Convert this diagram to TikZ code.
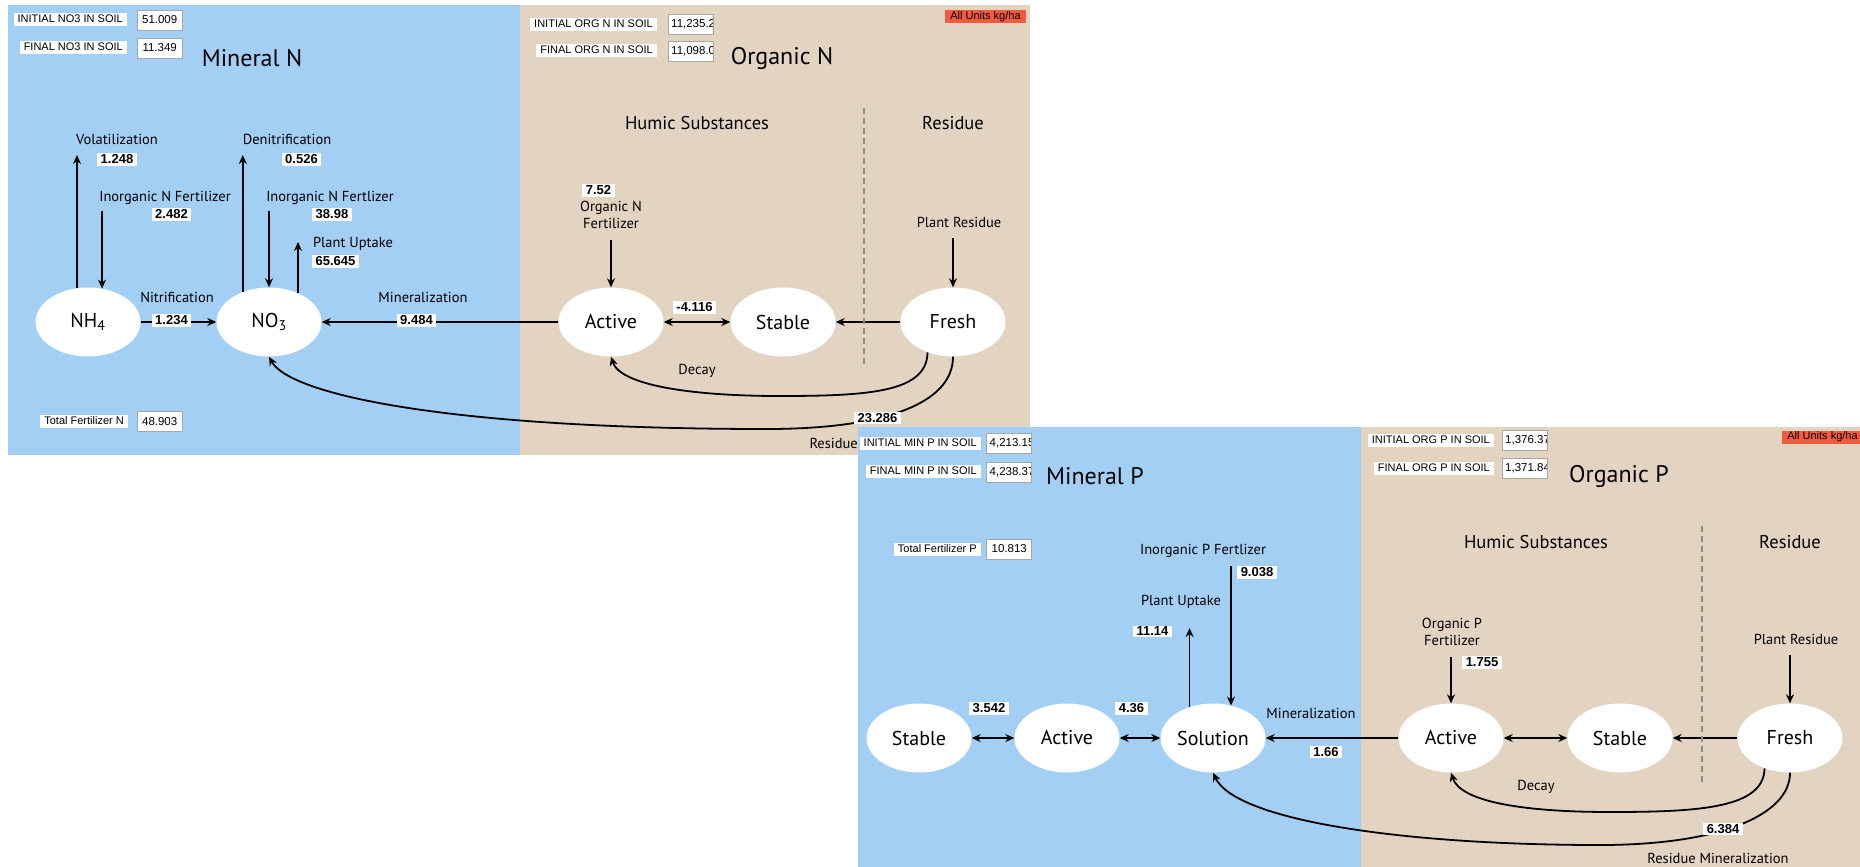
\documentclass[tikz,border=0pt]{standalone}
\usepackage{fontspec}
\setmainfont{PT Sans}
\newfontfamily\winfont{Liberation Sans}
\usetikzlibrary{shapes.geometric,arrows.meta}

\definecolor{minblue}{RGB}{163,207,245}
\definecolor{orgtan}{RGB}{227,211,193}
\definecolor{unitred}{RGB}{243,90,62}

\newcommand{\lblfont}{\winfont\fontsize{11}{13}\selectfont}
\newcommand{\valfont}{\winfont\fontsize{11.5}{13}\selectfont}
\newcommand{\numfont}{\winfont\bfseries\fontsize{13}{15}\selectfont}
\newcommand{\flowfont}{\fontsize{14.5}{17}\selectfont}
\newcommand{\headfont}{\fontsize{18.5}{20}\selectfont}
\newcommand{\titlefont}{\fontsize{24}{26}\selectfont}
\newcommand{\poolfont}{\fontsize{20}{22}\selectfont}

\begin{document}
\begin{tikzpicture}[x=1pt,y=-1pt,>={Stealth[length=9pt,width=8pt]},
  pool/.style={ellipse,fill=white,minimum width=105pt,minimum height=69pt,inner sep=0pt,font=\poolfont},
  arr/.style={line width=1.8pt},
  lblbox/.style={fill=white,font=\lblfont,inner xsep=4pt,inner ysep=1.5pt,text height=8pt,text depth=2pt},
  valbox/.style={draw=black!35,fill=white,minimum width=45pt,minimum height=20pt,inner sep=0pt,
    path picture={\node[anchor=west,inner sep=3pt,font=\valfont] at (path picture bounding box.west) {#1};}},
  numbox/.style={fill=white,font=\numfont,inner xsep=3.5pt,inner ysep=1.5pt},
  unitbox/.style={fill=unitred,font=\lblfont,minimum width=81pt,minimum height=13pt,inner sep=0pt},
  flowlbl/.style={font=\flowfont,inner sep=0pt},
  divider/.style={draw=black!45,line width=1.2pt,dash pattern=on 6pt off 4pt}]
\useasboundingbox[fill=white] (0,0) rectangle (1860,867);

% nitrogen: mineral N and organic N
\fill[minblue] (8,5) rectangle (520,455);
\fill[orgtan] (520,5) rectangle (1030,455);

\node[pool] (nh4) at (88,322) {NH\textsubscript{4}};
\node[pool] (no3) at (269,322) {NO\textsubscript{3}};
\node[pool] (actN) at (611,322) {Active};
\node[pool] (stbN) at (783,322) {Stable};
\node[pool] (frsN) at (953,322) {Fresh};

\coordinate (volTop) at (77,155);
\coordinate (fertNH) at (102,211);
\coordinate (denTop) at (243,155);
\coordinate (fertNO) at (269,211);
\coordinate (uptN) at (298,242);
\coordinate (fertON) at (611,240);
\coordinate (resN) at (953,238);

\draw[arr,->] (nh4.108) -- (nh4.108 |- volTop);
\draw[arr,->] (fertNH) -- (fertNH |- nh4.67);
\draw[arr,->] (no3.131) -- (no3.131 |- denTop);
\draw[arr,->] (fertNO) -- (no3.north);
\draw[arr,->] (no3.45) -- (no3.45 |- uptN);
\draw[arr,->] (nh4) -- (no3);
\draw[arr,->] (actN) -- (no3);
\draw[arr,<->] (actN) -- (stbN);
\draw[arr,->] (frsN) -- (stbN);
\draw[arr,->] (fertON) -- (actN.north);
\draw[arr,->] (resN) -- (frsN.north);
\draw[arr,->] (frsN.-130) .. controls (927,392) and (870,396) .. (780,396) .. controls (690,396) and (620,385) .. (actN.south);
\draw[arr,->] (frsN.south) .. controls (953,405) and (880,429) .. (767,429) .. controls (450,429) and (290,395) .. (no3.south);
\draw[divider] (864,108) -- (864,367);

\node[lblbox,anchor=east] (initNOlbl) at (127,19.5) {INITIAL NO3 IN SOIL};
\node[valbox={51.009}] (initNO) at (159.5,20) {};
\node[lblbox,anchor=east] (finNOlbl) at (127,47.5) {FINAL NO3 IN SOIL};
\node[valbox={11.349}] (finNO) at (159.5,48) {};
\node[font=\titlefont] (minNtitle) at (252,58) {Mineral N};
\node[lblbox,anchor=east] (initONlbl) at (657,24.5) {INITIAL ORG N IN SOIL};
\node[valbox={11,235.2}] (initON) at (690.5,24.5) {};
\node[lblbox,anchor=east] (finONlbl) at (657,50.5) {FINAL ORG N IN SOIL};
\node[valbox={11,098.0}] (finON) at (690.5,51) {};
\node[font=\titlefont] (orgNtitle) at (782,58) {Organic N};
\node[unitbox] (unitsN) at (985.5,16.5) {All Units kg/ha};
\node[font=\headfont] (humN) at (697,123) {Humic Substances};
\node[font=\headfont] (resNhd) at (953,123) {Residue};

\node[flowlbl] (volLbl) at (117,139) {Volatilization};
\node[numbox] (volVal) at (117,159.5) {1.248};
\node[flowlbl] (denLbl) at (287,139) {Denitrification};
\node[numbox] (denVal) at (301.5,159.5) {0.526};
\node[flowlbl] (fNHLbl) at (165,198) {Inorganic N Fertilizer};
\node[numbox] (fNHVal) at (171.5,214.5) {2.482};
\node[flowlbl] (fNOLbl) at (330,198) {Inorganic N Fertlizer};
\node[numbox] (fNOVal) at (332,214.5) {38.98};
\node[flowlbl] (uptNLbl) at (353,244) {Plant Uptake};
\node[numbox] (uptNVal) at (335.5,261.5) {65.645};
\node[flowlbl] (nitLbl) at (177,297) {Nitrification};
\node[numbox] (nitVal) at (171.5,320.5) {1.234};
\node[flowlbl] (minNLbl) at (423,297) {Mineralization};
\node[numbox] (minNVal) at (416.5,320.5) {9.484};
\node[numbox] (fONVal) at (598.5,190.5) {7.52};
\node[flowlbl,align=center] (fONLbl) at (611,214.5) {Organic N\\Fertilizer};
\node[flowlbl] (prNLbl) at (959,222) {Plant Residue};
\node[numbox] (asNVal) at (694.5,307.5) {-4.116};
\node[flowlbl] (decNLbl) at (697,371) {Decay};
\node[numbox] (rmNVal) at (877.5,418) {23.286};
\node[flowlbl,anchor=east] (rmNLbl) at (858,443) {Residue};
\node[lblbox,anchor=east] (totNlbl) at (128,421) {Total Fertilizer N};
\node[valbox={48.903}] (totN) at (159.5,421.5) {};

% phosphorus: mineral P and organic P
\fill[minblue] (858,427) rectangle (1361,867);
\fill[orgtan] (1361,427) rectangle (1860,867);

\node[pool] (stbMP) at (919,738) {Stable};
\node[pool] (actMP) at (1067,738) {Active};
\node[pool] (sol) at (1213,738) {Solution};
\node[pool] (actOP) at (1451,738) {Active};
\node[pool] (stbOP) at (1620,738) {Stable};
\node[pool] (frsP) at (1790,738) {Fresh};

\coordinate (uptP) at (1190,628);
\coordinate (fertP) at (1231,566);
\coordinate (fertOP) at (1451,657);
\coordinate (resP) at (1790,655);

\draw[arr,<->] (stbMP) -- (actMP);
\draw[arr,<->] (actMP) -- (sol);
\draw[arr,->] (sol.127) -- (sol.127 |- uptP);
\draw[arr,->] (fertP) -- (fertP |- sol.60);
\draw[arr,->] (actOP) -- (sol);
\draw[arr,<->] (actOP) -- (stbOP);
\draw[arr,->] (frsP) -- (stbOP);
\draw[arr,->] (fertOP) -- (actOP.north);
\draw[arr,->] (resP) -- (frsP.north);
\draw[arr,->] (frsP.-130) .. controls (1764,808) and (1700,812) .. (1610,812) .. controls (1520,812) and (1460,801) .. (actOP.south);
\draw[arr,->] (frsP.south) .. controls (1790,815) and (1720,845) .. (1600,845) .. controls (1400,845) and (1235,820) .. (sol.south);
\draw[divider] (1702,526) -- (1702,783);

\node[lblbox,anchor=east] (initMPlbl) at (981,443.5) {INITIAL MIN P IN SOIL};
\node[valbox={4,213.15}] (initMP) at (1009,443) {};
\node[lblbox,anchor=east] (finMPlbl) at (981,471) {FINAL MIN P IN SOIL};
\node[valbox={4,238.37}] (finMP) at (1009,472) {};
\node[font=\titlefont] (minPtitle) at (1095,476) {Mineral P};
\node[lblbox,anchor=east] (totPlbl) at (981,549.5) {Total Fertilizer P};
\node[valbox={10.813}] (totP) at (1009,549) {};
\node[lblbox,anchor=east] (initOPlbl) at (1494,440.5) {INITIAL ORG P IN SOIL};
\node[valbox={1,376.37}] (initOP) at (1524.5,440.5) {};
\node[lblbox,anchor=east] (finOPlbl) at (1494,468) {FINAL ORG P IN SOIL};
\node[valbox={1,371.84}] (finOP) at (1524.5,468.5) {};
\node[font=\titlefont] (orgPtitle) at (1619,476) {Organic P};
\node[unitbox] (unitsP) at (1822.5,437) {All Units kg/ha};
\node[font=\headfont] (humP) at (1536,542) {Humic Substances};
\node[font=\headfont] (resPhd) at (1790,542) {Residue};

\node[flowlbl] (fMPLbl) at (1203,551) {Inorganic P Fertlizer};
\node[numbox] (fMPVal) at (1257,572.5) {9.038};
\node[flowlbl] (uptPLbl) at (1181,602) {Plant Uptake};
\node[numbox] (uptPVal) at (1152.5,631.5) {11.14};
\node[numbox] (saVal) at (989,708.5) {3.542};
\node[numbox] (asPVal) at (1131.5,708.5) {4.36};
\node[flowlbl] (minPLbl) at (1311,713) {Mineralization};
\node[numbox] (minPVal) at (1326,752) {1.66};
\node[flowlbl,align=center] (fOPLbl) at (1452,631.5) {Organic P\\Fertilizer};
\node[numbox] (fOPVal) at (1482,662.5) {1.755};
\node[flowlbl] (prPLbl) at (1796,639) {Plant Residue};
\node[flowlbl] (decPLbl) at (1536,787) {Decay};
\node[numbox] (rmPVal) at (1723,829) {6.384};
\node[flowlbl] (rmPLbl) at (1718,858) {Residue Mineralization};
\end{tikzpicture}
\end{document}
